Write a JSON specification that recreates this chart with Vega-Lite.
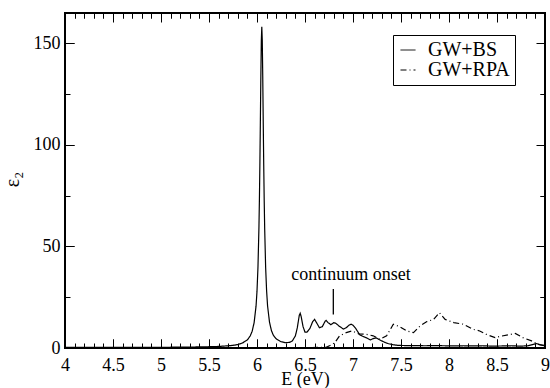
{
  "$schema": "https://vega.github.io/schema/vega-lite/v6.json",
  "width": 480,
  "height": 335,
  "autosize": {"type": "none"},
  "padding": {"left": 65, "top": 13, "right": 5, "bottom": 40},
  "background": "white",
  "config": {
    "view": {"stroke": "black", "strokeWidth": 2},
    "font": "Liberation Serif",
    "axis": {
      "domain": false, "ticks": true, "tickColor": "black", "tickWidth": 1,
      "labelFont": "Liberation Serif", "titleFont": "Liberation Serif",
      "labelColor": "black", "titleColor": "black",
      "labelFontSize": 18, "titleFontSize": 18, "titleFontWeight": "normal",
      "gridColor": "black", "gridOpacity": 1, "gridWidth": 1
    }
  },
  "datasets": {
    "curves": [
      {"E": 4.0, "eps": 0.27, "series": "GW+BS"},
      {"E": 4.5, "eps": 0.3, "series": "GW+BS"},
      {"E": 5.0, "eps": 0.35, "series": "GW+BS"},
      {"E": 5.3, "eps": 0.45, "series": "GW+BS"},
      {"E": 5.5, "eps": 0.63, "series": "GW+BS"},
      {"E": 5.6, "eps": 0.76, "series": "GW+BS"},
      {"E": 5.7, "eps": 1.1, "series": "GW+BS"},
      {"E": 5.75, "eps": 1.3, "series": "GW+BS"},
      {"E": 5.8, "eps": 1.7, "series": "GW+BS"},
      {"E": 5.85, "eps": 2.5, "series": "GW+BS"},
      {"E": 5.9, "eps": 4.0, "series": "GW+BS"},
      {"E": 5.93, "eps": 6.0, "series": "GW+BS"},
      {"E": 5.95, "eps": 8.3, "series": "GW+BS"},
      {"E": 5.97, "eps": 12.5, "series": "GW+BS"},
      {"E": 5.99, "eps": 20.6, "series": "GW+BS"},
      {"E": 6.0, "eps": 28.0, "series": "GW+BS"},
      {"E": 6.01, "eps": 39.7, "series": "GW+BS"},
      {"E": 6.02, "eps": 58.9, "series": "GW+BS"},
      {"E": 6.025, "eps": 72.8, "series": "GW+BS"},
      {"E": 6.03, "eps": 90.4, "series": "GW+BS"},
      {"E": 6.035, "eps": 111.3, "series": "GW+BS"},
      {"E": 6.04, "eps": 133.3, "series": "GW+BS"},
      {"E": 6.045, "eps": 151.3, "series": "GW+BS"},
      {"E": 6.05, "eps": 158.2, "series": "GW+BS"},
      {"E": 6.055, "eps": 151.3, "series": "GW+BS"},
      {"E": 6.06, "eps": 133.3, "series": "GW+BS"},
      {"E": 6.065, "eps": 111.3, "series": "GW+BS"},
      {"E": 6.07, "eps": 90.4, "series": "GW+BS"},
      {"E": 6.075, "eps": 72.8, "series": "GW+BS"},
      {"E": 6.08, "eps": 58.9, "series": "GW+BS"},
      {"E": 6.09, "eps": 39.7, "series": "GW+BS"},
      {"E": 6.1, "eps": 28.2, "series": "GW+BS"},
      {"E": 6.11, "eps": 20.8, "series": "GW+BS"},
      {"E": 6.13, "eps": 12.8, "series": "GW+BS"},
      {"E": 6.15, "eps": 8.6, "series": "GW+BS"},
      {"E": 6.17, "eps": 6.3, "series": "GW+BS"},
      {"E": 6.2, "eps": 4.5, "series": "GW+BS"},
      {"E": 6.25, "eps": 3.1, "series": "GW+BS"},
      {"E": 6.3, "eps": 2.6, "series": "GW+BS"},
      {"E": 6.34, "eps": 2.8, "series": "GW+BS"},
      {"E": 6.37, "eps": 3.6, "series": "GW+BS"},
      {"E": 6.4, "eps": 6.0, "series": "GW+BS"},
      {"E": 6.42, "eps": 10.0, "series": "GW+BS"},
      {"E": 6.44, "eps": 16.0, "series": "GW+BS"},
      {"E": 6.45, "eps": 17.1, "series": "GW+BS"},
      {"E": 6.46, "eps": 15.5, "series": "GW+BS"},
      {"E": 6.48, "eps": 10.5, "series": "GW+BS"},
      {"E": 6.5, "eps": 7.8, "series": "GW+BS"},
      {"E": 6.52, "eps": 7.8, "series": "GW+BS"},
      {"E": 6.55, "eps": 9.5, "series": "GW+BS"},
      {"E": 6.58, "eps": 13.0, "series": "GW+BS"},
      {"E": 6.6, "eps": 14.1, "series": "GW+BS"},
      {"E": 6.62, "eps": 12.5, "series": "GW+BS"},
      {"E": 6.65, "eps": 10.0, "series": "GW+BS"},
      {"E": 6.68, "eps": 10.5, "series": "GW+BS"},
      {"E": 6.71, "eps": 13.2, "series": "GW+BS"},
      {"E": 6.72, "eps": 13.6, "series": "GW+BS"},
      {"E": 6.74, "eps": 12.5, "series": "GW+BS"},
      {"E": 6.77, "eps": 11.5, "series": "GW+BS"},
      {"E": 6.8, "eps": 12.5, "series": "GW+BS"},
      {"E": 6.82, "eps": 12.2, "series": "GW+BS"},
      {"E": 6.85, "eps": 11.0, "series": "GW+BS"},
      {"E": 6.88, "eps": 10.0, "series": "GW+BS"},
      {"E": 6.9, "eps": 9.3, "series": "GW+BS"},
      {"E": 6.93, "eps": 10.0, "series": "GW+BS"},
      {"E": 6.96, "eps": 11.3, "series": "GW+BS"},
      {"E": 6.98, "eps": 11.7, "series": "GW+BS"},
      {"E": 7.0, "eps": 11.2, "series": "GW+BS"},
      {"E": 7.03, "eps": 9.5, "series": "GW+BS"},
      {"E": 7.07, "eps": 6.5, "series": "GW+BS"},
      {"E": 7.1, "eps": 5.8, "series": "GW+BS"},
      {"E": 7.14, "eps": 5.0, "series": "GW+BS"},
      {"E": 7.18, "eps": 4.0, "series": "GW+BS"},
      {"E": 7.21, "eps": 4.6, "series": "GW+BS"},
      {"E": 7.24, "eps": 5.0, "series": "GW+BS"},
      {"E": 7.27, "eps": 4.2, "series": "GW+BS"},
      {"E": 7.3, "eps": 3.5, "series": "GW+BS"},
      {"E": 7.34, "eps": 2.6, "series": "GW+BS"},
      {"E": 7.37, "eps": 2.1, "series": "GW+BS"},
      {"E": 7.42, "eps": 1.6, "series": "GW+BS"},
      {"E": 7.47, "eps": 1.3, "series": "GW+BS"},
      {"E": 7.55, "eps": 1.2, "series": "GW+BS"},
      {"E": 7.65, "eps": 1.2, "series": "GW+BS"},
      {"E": 7.75, "eps": 1.1, "series": "GW+BS"},
      {"E": 7.85, "eps": 1.2, "series": "GW+BS"},
      {"E": 7.95, "eps": 1.1, "series": "GW+BS"},
      {"E": 8.05, "eps": 1.0, "series": "GW+BS"},
      {"E": 8.15, "eps": 1.1, "series": "GW+BS"},
      {"E": 8.25, "eps": 1.0, "series": "GW+BS"},
      {"E": 8.35, "eps": 1.1, "series": "GW+BS"},
      {"E": 8.45, "eps": 0.9, "series": "GW+BS"},
      {"E": 8.55, "eps": 1.0, "series": "GW+BS"},
      {"E": 8.65, "eps": 1.1, "series": "GW+BS"},
      {"E": 8.75, "eps": 0.9, "series": "GW+BS"},
      {"E": 8.82, "eps": 1.1, "series": "GW+BS"},
      {"E": 8.87, "eps": 1.7, "series": "GW+BS"},
      {"E": 8.91, "eps": 2.2, "series": "GW+BS"},
      {"E": 8.95, "eps": 1.6, "series": "GW+BS"},
      {"E": 9.0, "eps": 1.3, "series": "GW+BS"},
      {"E": 4.0, "eps": 0.1, "series": "GW+RPA"},
      {"E": 5.0, "eps": 0.1, "series": "GW+RPA"},
      {"E": 6.0, "eps": 0.15, "series": "GW+RPA"},
      {"E": 6.5, "eps": 0.2, "series": "GW+RPA"},
      {"E": 6.72, "eps": 0.3, "series": "GW+RPA"},
      {"E": 6.76, "eps": 1.2, "series": "GW+RPA"},
      {"E": 6.81, "eps": 2.6, "series": "GW+RPA"},
      {"E": 6.86, "eps": 6.0, "series": "GW+RPA"},
      {"E": 6.93, "eps": 7.6, "series": "GW+RPA"},
      {"E": 6.99, "eps": 8.4, "series": "GW+RPA"},
      {"E": 7.06, "eps": 7.0, "series": "GW+RPA"},
      {"E": 7.14, "eps": 6.7, "series": "GW+RPA"},
      {"E": 7.21, "eps": 6.0, "series": "GW+RPA"},
      {"E": 7.28, "eps": 4.3, "series": "GW+RPA"},
      {"E": 7.35, "eps": 6.0, "series": "GW+RPA"},
      {"E": 7.42, "eps": 11.7, "series": "GW+RPA"},
      {"E": 7.49, "eps": 10.4, "series": "GW+RPA"},
      {"E": 7.56, "eps": 8.4, "series": "GW+RPA"},
      {"E": 7.63, "eps": 7.6, "series": "GW+RPA"},
      {"E": 7.7, "eps": 10.9, "series": "GW+RPA"},
      {"E": 7.77, "eps": 13.0, "series": "GW+RPA"},
      {"E": 7.84, "eps": 14.1, "series": "GW+RPA"},
      {"E": 7.9, "eps": 17.4, "series": "GW+RPA"},
      {"E": 7.96, "eps": 14.1, "series": "GW+RPA"},
      {"E": 8.05, "eps": 12.5, "series": "GW+RPA"},
      {"E": 8.15, "eps": 11.7, "series": "GW+RPA"},
      {"E": 8.25, "eps": 9.2, "series": "GW+RPA"},
      {"E": 8.32, "eps": 8.4, "series": "GW+RPA"},
      {"E": 8.39, "eps": 6.7, "series": "GW+RPA"},
      {"E": 8.48, "eps": 5.1, "series": "GW+RPA"},
      {"E": 8.55, "eps": 5.9, "series": "GW+RPA"},
      {"E": 8.62, "eps": 6.5, "series": "GW+RPA"},
      {"E": 8.69, "eps": 7.2, "series": "GW+RPA"},
      {"E": 8.77, "eps": 5.1, "series": "GW+RPA"},
      {"E": 8.86, "eps": 3.5, "series": "GW+RPA"},
      {"E": 8.93, "eps": 1.8, "series": "GW+RPA"},
      {"E": 9.0, "eps": 1.0, "series": "GW+RPA"}
    ],
    "corners": [{"E": 4, "eps": 0}, {"E": 9, "eps": 165}],
    "marker": [{"E": 6.795, "lo": 16.5, "hi": 29}],
    "note": [{"E": 6.98, "eps": 33.5, "label": "continuum onset"}]
  },
  "layer": [
    {
      "data": {"name": "curves"},
      "mark": {"type": "line", "color": "black", "strokeWidth": 1.2},
      "encoding": {
        "x": {"field": "E", "type": "quantitative",
          "scale": {"domain": [4, 9], "nice": false, "zero": false},
          "axis": {"orient": "bottom", "values": [4, 4.5, 5, 5.5, 6, 6.5, 7, 7.5, 8, 8.5, 9],
            "format": "~g", "tickSize": -9, "labelPadding": 17, "labelFlush": false, "labelOverlap": false, "zindex": 1,
            "grid": true, "gridDash": [9, 317, 9, 1000],
            "title": "E (eV)", "titleBaseline": "alphabetic", "titleY": 36}},
        "y": {"field": "eps", "type": "quantitative",
          "scale": {"domain": [0, 165], "nice": false, "zero": false},
          "axis": {"orient": "left", "values": [0, 50, 100, 150], "format": "d",
            "tickSize": -9, "labelPadding": 14, "labelOverlap": false, "zindex": 1,
            "grid": true, "gridDash": [9, 462, 9, 1000],
            "title": "ε₂", "titleFontSize": 20, "titleAngle": -90, "titleX": -47, "titleY": 166,
            "titleBaseline": "alphabetic", "titleAlign": "center"}},
        "strokeDash": {"field": "series", "type": "nominal",
          "scale": {"domain": ["GW+BS", "GW+RPA"], "range": [[1, 0], [6, 3, 1, 3]]},
          "legend": {"title": null, "orient": "none", "legendX": 328, "legendY": 22,
            "strokeColor": "black", "fillColor": "white", "padding": 5, "cornerRadius": 0,
            "labelFont": "Liberation Serif", "labelFontSize": 20, "labelColor": "black",
            "symbolType": "stroke", "symbolSize": 225, "symbolStrokeWidth": 1,
            "symbolStrokeColor": "black", "labelOffset": 10, "rowPadding": -5}}
      }
    },
    {
      "data": {"name": "corners"},
      "mark": {"type": "point", "opacity": 0},
      "encoding": {
        "x": {"field": "E", "type": "quantitative",
          "axis": {"orient": "top", "values": [4.1, 4.2, 4.3, 4.4, 4.6, 4.7, 4.8, 4.9, 5.1, 5.2, 5.3, 5.4, 5.6, 5.7, 5.8, 5.9, 6.1, 6.2, 6.3, 6.4, 6.6, 6.7, 6.8, 6.9, 7.1, 7.2, 7.3, 7.4, 7.6, 7.7, 7.8, 7.9, 8.1, 8.2, 8.3, 8.4, 8.6, 8.7, 8.8, 8.9],
            "tickSize": -5, "labels": false, "title": null, "zindex": 1, "grid": true, "gridDash": [5, 325, 5, 1000]}},
        "y": {"field": "eps", "type": "quantitative",
          "axis": {"orient": "right", "values": [25, 75, 125],
            "tickSize": -5, "labels": false, "title": null, "zindex": 1, "grid": true, "gridDash": [5, 470, 5, 1000]}}
      }
    },
    {
      "data": {"name": "marker"},
      "mark": {"type": "rule", "color": "black", "strokeWidth": 1.3},
      "encoding": {
        "x": {"field": "E", "type": "quantitative", "axis": null},
        "y": {"field": "lo", "type": "quantitative", "axis": null},
        "y2": {"field": "hi"}
      }
    },
    {
      "data": {"name": "note"},
      "mark": {"type": "text", "font": "Liberation Serif", "fontSize": 18, "align": "center", "baseline": "alphabetic", "color": "black"},
      "encoding": {
        "x": {"field": "E", "type": "quantitative", "axis": null},
        "y": {"field": "eps", "type": "quantitative", "axis": null},
        "text": {"field": "label"}
      }
    }
  ]
}
